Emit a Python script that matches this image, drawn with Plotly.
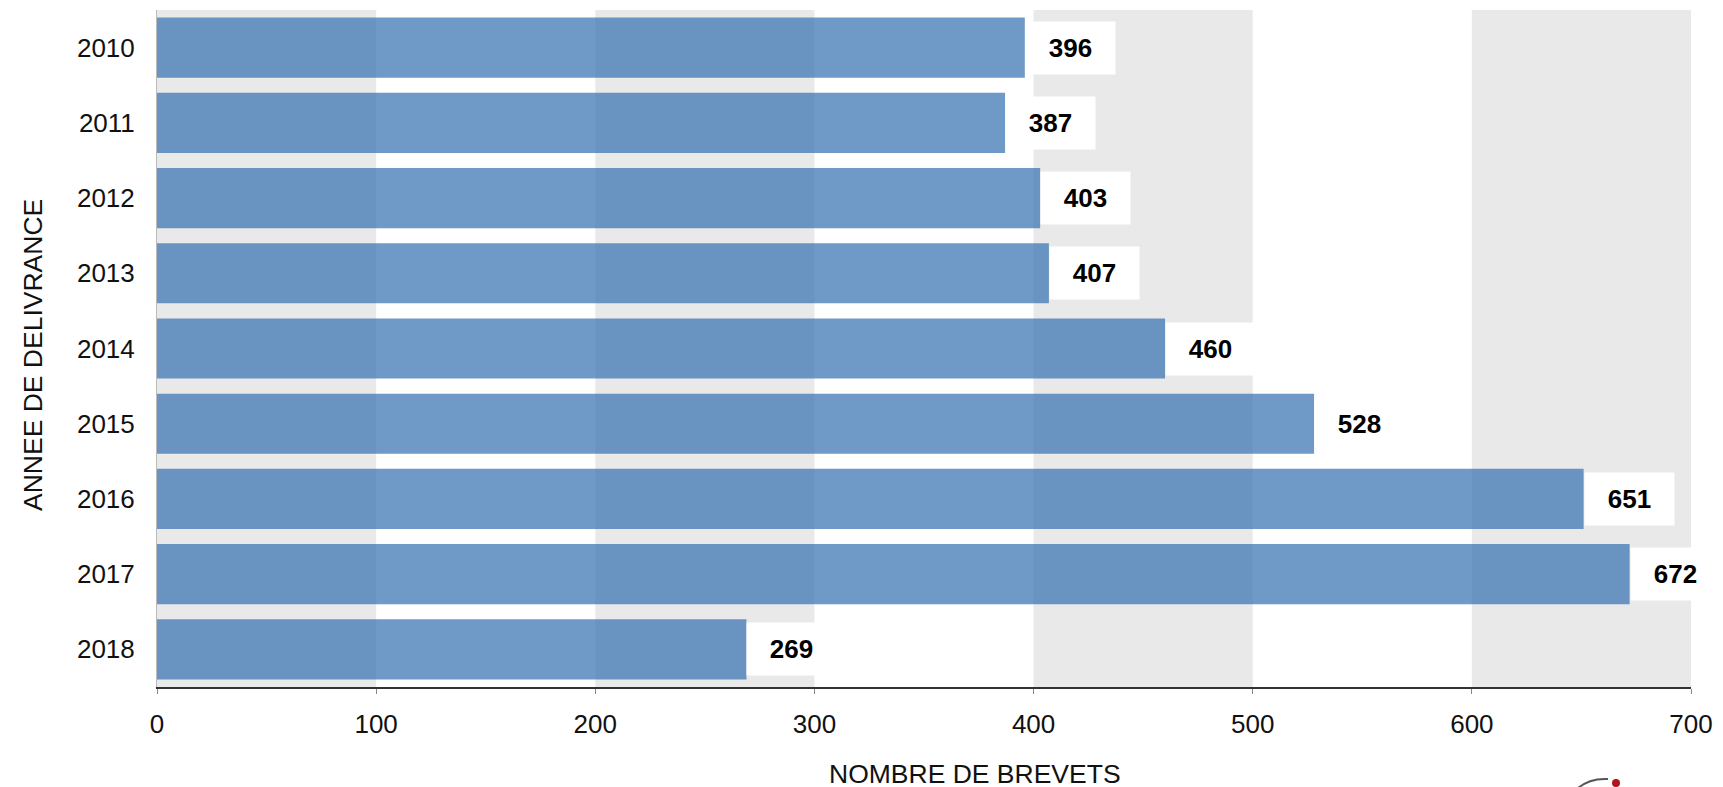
import plotly.graph_objects as go

years = ["2010", "2011", "2012", "2013", "2014", "2015", "2016", "2017", "2018"]
brevets = [396, 387, 403, 407, 460, 528, 651, 672, 269]
x_ticks = [0, 100, 200, 300, 400, 500, 600, 700]
bands = [(0, 100), (200, 300), (400, 500), (600, 700)]

# page body has an 8px default margin: work in figure coordinates = screen - 8
OFF = 8
W, H = 1723, 787
PL, PR, PT, PB = 157 - OFF, 1691 - OFF, 10 - OFF, 687 - OFF  # plot edges (figure px)
FONT = "Liberation Sans, Arial, sans-serif"

pw = PR - PL
ph = PB - PT


def px(xs):
    return (xs - OFF - PL) / pw


def py(ys):
    return (PB - (ys - OFF)) / ph


fig = go.Figure()
fig.add_trace(go.Bar(
    y=years, x=brevets, orientation="h",
    marker=dict(color="rgba(58,116,180,0.73)", line=dict(width=0)),
    hoverinfo="x+y",
))

shapes = []
for a, b in bands:
    shapes.append(dict(type="rect", xref="x", yref="paper", x0=a, x1=b, y0=0, y1=1,
                       fillcolor="#e9e9e9", line=dict(width=0), layer="below"))

annotations = []
for i, v in enumerate(brevets):
    annotations.append(dict(
        x=v, y=i, xref="x", yref="y", xanchor="left", yanchor="middle",
        text="<b>%d</b>" % v, showarrow=False,
        font=dict(family=FONT, size=26, color="#000"),
        bgcolor="white", width=89, height=52, borderpad=0, align="center",
    ))

annotations.append(dict(
    x=px(975), y=py(774), xref="paper", yref="paper",
    xanchor="center", yanchor="middle", showarrow=False,
    text="NOMBRE DE BREVETS", font=dict(family=FONT, size=26.5, color="#111")))
annotations.append(dict(
    x=px(33), y=py(355), xref="paper", yref="paper",
    xanchor="center", yanchor="middle", showarrow=False, textangle=-90,
    text="ANNEE DE DELIVRANCE", font=dict(family=FONT, size=26.5, color="#111")))

# small partially visible logo at bottom right
shapes.append(dict(type="circle", xref="paper", yref="paper",
                   x0=px(1612), x1=px(1620), y0=py(787), y1=py(779),
                   fillcolor="#b5121b", line=dict(width=0)))
shapes.append(dict(type="path", xref="paper", yref="paper",
                   path="M %f %f Q %f %f %f %f" % (px(1578), py(788), px(1590), py(778), px(1608), py(779)),
                   line=dict(color="#555", width=2)))

fig.update_layout(
    width=W, height=H,
    margin=dict(l=PL, r=W - PR, t=PT, b=H - PB, pad=0),
    paper_bgcolor="white", plot_bgcolor="white",
    bargap=0.2, showlegend=False,
    shapes=shapes, annotations=annotations,
    font=dict(family=FONT, size=26, color="#111"),
)
fig.update_xaxes(
    range=[0, 700], tickvals=x_ticks, ticktext=[str(t) for t in x_ticks],
    showgrid=False, zeroline=False, showline=True, linecolor="#333", linewidth=1.5,
    ticks="outside", ticklen=5, tickcolor="#888", tickwidth=1, ticklabelstandoff=8,
    tickfont=dict(family=FONT, size=26, color="#111"), fixedrange=True,
)
fig.update_yaxes(
    type="category", categoryorder="array", categoryarray=years, range=[8.5, -0.5],
    showgrid=False, zeroline=False, showline=True, linecolor="#bbb", linewidth=1,
    ticks="outside", ticklen=16, tickcolor="rgba(0,0,0,0)",
    tickfont=dict(family=FONT, size=26, color="#111"), fixedrange=True,
)

fig.write_html("out.html")
